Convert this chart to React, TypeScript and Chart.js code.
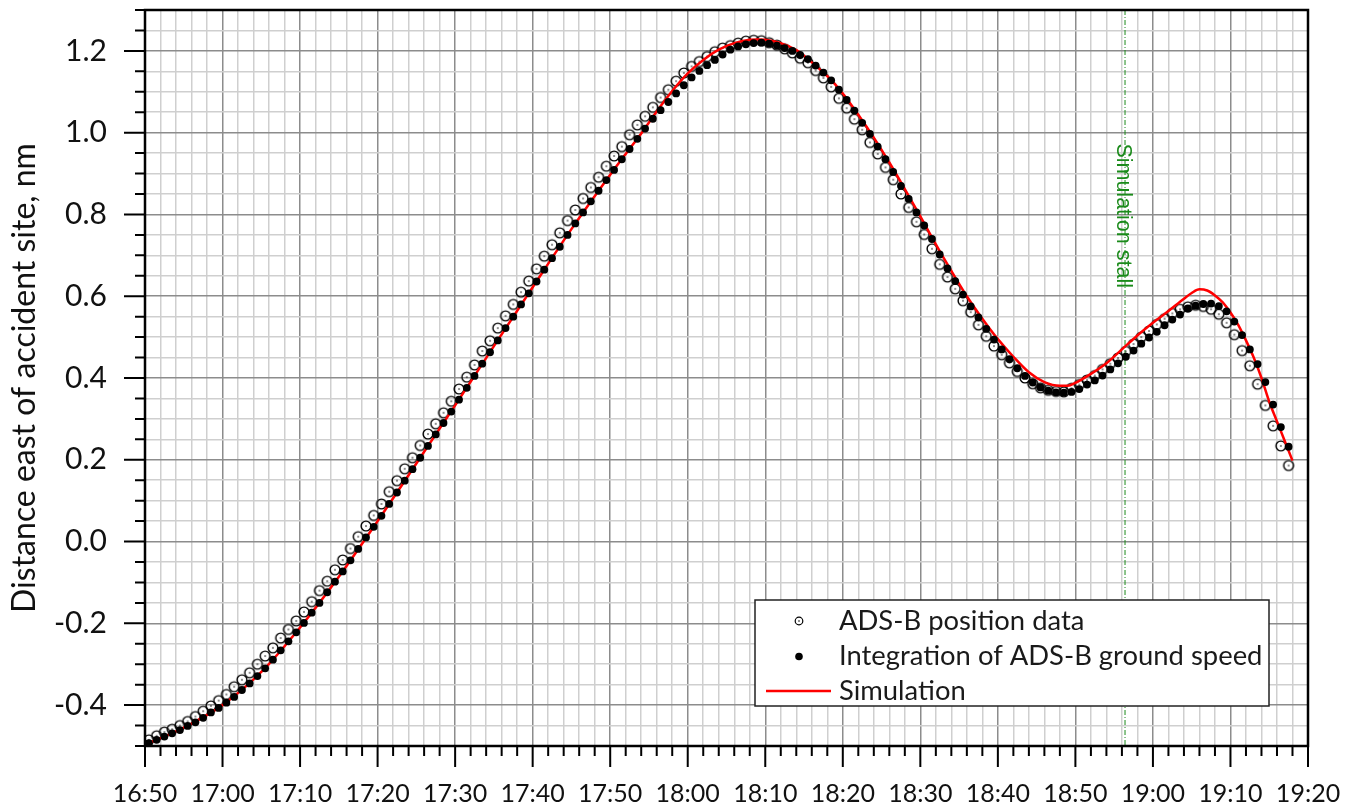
import React, { useEffect, useRef } from 'react';
import { Chart, registerables } from 'chart.js';

Chart.register(...registerables);

// time axis: seconds after 16:50
const START_SECONDS = 16 * 60 + 50;
const X_MIN = 0;
const X_MAX = 150;
const Y_MIN = -0.5;
const Y_MAX = 1.3;

const seriesLabels = ['ADS-B position data', 'Integration of ADS-B ground speed', 'Simulation'];
const yTitle = 'Distance east of accident site, nm';
const stallLabel = 'Simulation stall';
const stallSecond = 126.4;

const sampleSeconds = [
  0.5, 1.5, 2.5, 3.5, 4.5, 5.5, 6.5, 7.5, 8.5, 9.5,
  10.5, 11.5, 12.5, 13.5, 14.5, 15.5, 16.5, 17.5, 18.5, 19.5,
  20.5, 21.5, 22.5, 23.5, 24.5, 25.5, 26.5, 27.5, 28.5, 29.5,
  30.5, 31.5, 32.5, 33.5, 34.5, 35.5, 36.5, 37.5, 38.5, 39.5,
  40.5, 41.5, 42.5, 43.5, 44.5, 45.5, 46.5, 47.5, 48.5, 49.5,
  50.5, 51.5, 52.5, 53.5, 54.5, 55.5, 56.5, 57.5, 58.5, 59.5,
  60.5, 61.5, 62.5, 63.5, 64.5, 65.5, 66.5, 67.5, 68.5, 69.5,
  70.5, 71.5, 72.5, 73.5, 74.5, 75.5, 76.5, 77.5, 78.5, 79.5,
  80.5, 81.5, 82.5, 83.5, 84.5, 85.5, 86.5, 87.5, 88.5, 89.5,
  90.5, 91.5, 92.5, 93.5, 94.5, 95.5, 96.5, 97.5, 98.5, 99.5,
  100.5, 101.5, 102.5, 103.5, 104.5, 105.5, 106.5, 107.5, 108.5, 109.5,
  110.5, 111.5, 112.5, 113.5, 114.5, 115.5, 116.5, 117.5, 118.5, 119.5,
  120.5, 121.5, 122.5, 123.5, 124.5, 125.5, 126.5, 127.5, 128.5, 129.5,
  130.5, 131.5, 132.5, 133.5, 134.5, 135.5, 136.5, 137.5, 138.5, 139.5,
  140.5, 141.5, 142.5, 143.5, 144.5, 145.5, 146.5, 147.5,
];

const adsbPosition = [
  -0.485, -0.475, -0.466, -0.459, -0.450, -0.440, -0.428, -0.415, -0.402, -0.389,
  -0.374, -0.355, -0.338, -0.321, -0.300, -0.280, -0.260, -0.236, -0.215, -0.194,
  -0.172, -0.147, -0.120, -0.097, -0.069, -0.045, -0.017, 0.012, 0.038, 0.064,
  0.092, 0.122, 0.149, 0.178, 0.205, 0.235, 0.263, 0.288, 0.315, 0.343,
  0.373, 0.402, 0.432, 0.466, 0.491, 0.522, 0.552, 0.580, 0.610, 0.637,
  0.667, 0.698, 0.726, 0.755, 0.785, 0.811, 0.839, 0.866, 0.891, 0.918,
  0.943, 0.966, 0.995, 1.019, 1.040, 1.062, 1.086, 1.105, 1.126, 1.146,
  1.162, 1.174, 1.186, 1.198, 1.207, 1.213, 1.219, 1.224, 1.226, 1.225,
  1.220, 1.214, 1.205, 1.195, 1.182, 1.171, 1.152, 1.134, 1.112, 1.084,
  1.060, 1.033, 1.007, 0.976, 0.948, 0.915, 0.885, 0.850, 0.817, 0.782,
  0.751, 0.716, 0.678, 0.647, 0.618, 0.589, 0.561, 0.530, 0.502, 0.478,
  0.457, 0.437, 0.416, 0.400, 0.386, 0.376, 0.370, 0.367, 0.366, 0.375,
  0.384, 0.395, 0.406, 0.421, 0.435, 0.449, 0.465, 0.483, 0.500, 0.515,
  0.531, 0.545, 0.558, 0.568, 0.574, 0.578, 0.575, 0.568, 0.556, 0.535,
  0.506, 0.467, 0.430, 0.385, 0.333, 0.283, 0.234, 0.186,
];

const groundSpeedIntegration = [
  -0.493, -0.485, -0.477, -0.469, -0.461, -0.451, -0.442, -0.431, -0.418, -0.407,
  -0.394, -0.380, -0.363, -0.347, -0.329, -0.310, -0.289, -0.266, -0.244, -0.222,
  -0.199, -0.174, -0.150, -0.124, -0.098, -0.073, -0.046, -0.018, 0.010, 0.036,
  0.063, 0.092, 0.120, 0.149, 0.177, 0.205, 0.234, 0.262, 0.290, 0.318,
  0.347, 0.376, 0.405, 0.435, 0.463, 0.492, 0.522, 0.550, 0.580, 0.607,
  0.636, 0.665, 0.693, 0.721, 0.750, 0.778, 0.805, 0.832, 0.858, 0.884,
  0.909, 0.935, 0.960, 0.985, 1.010, 1.034, 1.055, 1.075, 1.096, 1.116,
  1.135, 1.151, 1.165, 1.178, 1.191, 1.203, 1.211, 1.216, 1.219, 1.220,
  1.218, 1.213, 1.207, 1.200, 1.190, 1.180, 1.164, 1.147, 1.128, 1.105,
  1.080, 1.054, 1.024, 0.997, 0.966, 0.935, 0.904, 0.870, 0.838, 0.805,
  0.773, 0.740, 0.702, 0.668, 0.637, 0.604, 0.575, 0.548, 0.520, 0.494,
  0.470, 0.446, 0.424, 0.405, 0.389, 0.377, 0.369, 0.365, 0.364, 0.366,
  0.373, 0.384, 0.394, 0.406, 0.421, 0.436, 0.452, 0.467, 0.484, 0.499,
  0.513, 0.529, 0.543, 0.555, 0.570, 0.577, 0.581, 0.582, 0.576, 0.563,
  0.538, 0.505, 0.470, 0.434, 0.390, 0.335, 0.280, 0.232,
];

const simSeconds = [
  0, 5, 10, 15, 20, 25, 30, 35, 40, 45, 50, 55, 60, 62, 64, 66, 68, 70, 72, 74,
  76, 78, 79, 80, 82, 84, 86, 88, 90, 92, 94, 96, 98, 100, 102, 104, 106, 108, 110, 112,
  114, 116, 118, 119, 120, 122, 124, 126, 128, 130, 132, 134, 135, 136, 137, 138, 139, 140, 141, 142,
  143, 144, 145, 146, 147, 148,
];

const simulation = [
  -0.497, -0.455, -0.400, -0.319, -0.210, -0.086, 0.050, 0.191, 0.333, 0.478, 0.622, 0.764, 0.897, 0.948, 0.998, 1.052, 1.102, 1.145, 1.178, 1.203,
  1.219, 1.227, 1.228, 1.227, 1.219, 1.202, 1.172, 1.138, 1.096, 1.044, 0.988, 0.927, 0.862, 0.795, 0.727, 0.662, 0.600, 0.545, 0.495, 0.452,
  0.414, 0.390, 0.381, 0.381, 0.388, 0.410, 0.436, 0.470, 0.504, 0.535, 0.564, 0.594, 0.608, 0.617, 0.614, 0.602, 0.585, 0.560, 0.530, 0.492,
  0.450, 0.400, 0.342, 0.294, 0.246, 0.198,
];

const FONT = 'Lato, "Noto Sans", sans-serif';
const MINOR_GRID = '#cfcfcf';
const MAJOR_GRID = '#8c8c8c';

function fmtTime(v: number) {
  const s = START_SECONDS + Math.round(v);
  const m = Math.floor(s / 60);
  const ss = s % 60;
  return `${m}:${String(ss).padStart(2, '0')}`;
}

function isMajorX(v: number) {
  return Math.round(v) % 10 === 0;
}
function isMajorY(v: number) {
  return Math.round(v * 100) % 20 === 0;
}

function makeOpenCircle(r: number) {
  const size = 14;
  const c = document.createElement('canvas');
  c.width = size;
  c.height = size;
  const g = c.getContext('2d')!;
  g.strokeStyle = '#000';
  g.lineWidth = 1.4;
  g.beginPath();
  g.arc(size / 2, size / 2, r, 0, Math.PI * 2);
  g.stroke();
  g.fillStyle = '#000';
  g.beginPath();
  g.arc(size / 2, size / 2, 0.8, 0, Math.PI * 2);
  g.fill();
  return c;
}

const overlayPlugin = {
  id: 'overlay',
  beforeDatasetsDraw(chart: any) {
    const { ctx, chartArea, scales } = chart;
    const x = scales.x.getPixelForValue(stallSecond);
    ctx.save();
    ctx.strokeStyle = '#1a8a1a';
    ctx.lineWidth = 1;
    ctx.setLineDash([5, 2, 1, 2]);
    ctx.beginPath();
    ctx.moveTo(x, chartArea.top);
    ctx.lineTo(x, chartArea.bottom);
    ctx.stroke();
    ctx.setLineDash([]);
    ctx.translate(x - 2, scales.y.getPixelForValue(0.797));
    ctx.rotate(Math.PI / 2);
    ctx.fillStyle = '#1a8a1a';
    ctx.font = '21.5px "Liberation Sans", Arial, sans-serif';
    ctx.textAlign = 'center';
    ctx.textBaseline = 'middle';
    ctx.fillText(stallLabel, 0, 0);
    ctx.restore();
  },
  afterDraw(chart: any) {
    const { ctx, chartArea, scales } = chart;
    const { left, right, top, bottom } = chartArea;
    ctx.save();
    // tick marks
    ctx.strokeStyle = '#000';
    ctx.lineWidth = 2;
    ctx.lineCap = 'butt';
    ctx.beginPath();
    scales.x.ticks.forEach((t: any) => {
      const px = scales.x.getPixelForValue(t.value);
      const len = isMajorX(t.value) ? 21 : 10;
      ctx.moveTo(px, bottom);
      ctx.lineTo(px, bottom + len);
    });
    scales.y.ticks.forEach((t: any) => {
      const py = scales.y.getPixelForValue(t.value);
      const len = isMajorY(t.value) ? 21 : 10;
      ctx.moveTo(left, py);
      ctx.lineTo(left - len, py);
    });
    ctx.stroke();
    // frame
    ctx.lineWidth = 2.5;
    ctx.strokeRect(left, top, right - left, bottom - top);

    // legend
    const bw = 514;
    const bh = 106;
    const bx = right - 39 - bw;
    const by = bottom - 40 - bh;
    ctx.fillStyle = '#fff';
    ctx.fillRect(bx, by, bw, bh);
    ctx.strokeStyle = '#222';
    ctx.lineWidth = 1.5;
    ctx.strokeRect(bx, by, bw, bh);
    const rows = [by + 21, by + 56.5, by + 91];
    const mx = bx + 44;
    // open circle
    ctx.lineWidth = 1.2;
    ctx.strokeStyle = '#000';
    ctx.beginPath();
    ctx.arc(mx, rows[0], 3.8, 0, Math.PI * 2);
    ctx.stroke();
    ctx.fillStyle = '#000';
    ctx.beginPath();
    ctx.arc(mx, rows[0], 0.8, 0, Math.PI * 2);
    ctx.fill();
    // filled
    ctx.beginPath();
    ctx.arc(mx, rows[1], 3.8, 0, Math.PI * 2);
    ctx.fill();
    // line
    ctx.strokeStyle = '#ff0000';
    ctx.lineWidth = 2.5;
    ctx.beginPath();
    ctx.moveTo(bx + 11, rows[2]);
    ctx.lineTo(bx + 76, rows[2]);
    ctx.stroke();
    ctx.fillStyle = '#1a1a1a';
    ctx.font = `27.4px ${FONT}`;
    ctx.textAlign = 'left';
    ctx.textBaseline = 'middle';
    const labels = chart.data.datasets.map((d: any) => d.label);
    labels.forEach((lab: string, i: number) => ctx.fillText(lab, bx + 84, rows[i]));
    ctx.restore();
  },
};

export default function App() {
  const canvasRef = useRef<HTMLCanvasElement | null>(null);

  useEffect(() => {
    const canvas = canvasRef.current;
    if (!canvas) return;
    const openCircle = makeOpenCircle(4.9);
    const chart = new Chart(canvas, {
      type: 'scatter',
      data: {
        datasets: [
          {
            label: seriesLabels[0],
            data: sampleSeconds.map((t, i) => ({ x: t, y: adsbPosition[i] })),
            pointStyle: openCircle as any,
            pointRadius: 5,
            showLine: false,
            order: 3,
          },
          {
            label: seriesLabels[1],
            data: sampleSeconds.map((t, i) => ({ x: t, y: groundSpeedIntegration[i] })),
            pointStyle: 'circle',
            pointRadius: 3.9,
            backgroundColor: '#000',
            borderColor: '#000',
            borderWidth: 0,
            showLine: false,
            order: 1,
          },
          {
            label: seriesLabels[2],
            data: simSeconds.map((t, i) => ({ x: t, y: simulation[i] })),
            showLine: true,
            pointRadius: 0,
            borderColor: '#ff0000',
            borderWidth: 2.5,
            cubicInterpolationMode: 'monotone',
            order: 2,
          },
        ],
      },
      options: {
        responsive: false,
        animation: false,
        events: [],
        layout: { padding: { left: 0, top: 10, right: 45, bottom: 0 } },
        plugins: {
          legend: { display: false },
          tooltip: { enabled: false },
        },
        scales: {
          x: {
            type: 'linear',
            min: X_MIN,
            max: X_MAX,
            border: { display: false },
            grid: {
              drawTicks: false,
              lineWidth: 1.5,
              color: (c: any) => (c.tick && isMajorX(c.tick.value) ? MAJOR_GRID : MINOR_GRID),
            },
            ticks: {
              stepSize: 2,
              autoSkip: false,
              maxRotation: 0,
              minRotation: 0,
              padding: 33,
              color: '#111',
              font: { family: FONT, size: 25 },
              callback: (v: any) => (isMajorX(Number(v)) ? fmtTime(Number(v)) : ''),
            },
            afterFit: (s: any) => {
              s.height = 63;
              s.paddingLeft = 0;
              s.paddingRight = 0;
            },
          },
          y: {
            type: 'linear',
            min: Y_MIN,
            max: Y_MAX,
            border: { display: false },
            grid: {
              drawTicks: false,
              lineWidth: 1.5,
              color: (c: any) => (c.tick && isMajorY(c.tick.value) ? MAJOR_GRID : MINOR_GRID),
            },
            ticks: {
              stepSize: 0.05,
              autoSkip: false,
              padding: 38,
              color: '#111',
              font: { family: FONT, size: 30 },
              callback: (v: any) => {
                const n = Number(v);
                if (!isMajorY(n)) return '';
                const r = Math.round(n * 10) / 10;
                return (Math.abs(r) < 1e-9 ? 0 : r).toFixed(1);
              },
            },
            title: {
              display: true,
              text: yTitle,
              color: '#111',
              font: { family: FONT, size: 32 },
              padding: { top: 5, bottom: 0 },
            },
            afterFit: (s: any) => {
              s.width = 145;
              s.paddingTop = 0;
              s.paddingBottom = 0;
            },
          },
        },
      },
      plugins: [overlayPlugin],
    });
    return () => chart.destroy();
  }, []);

  return (
    <div style={{ position: 'fixed', left: 0, top: 0, width: 1353, height: 809, background: '#fff' }}>
      <canvas ref={canvasRef} width={1353} height={809} style={{ display: 'block' }} />
    </div>
  );
}
